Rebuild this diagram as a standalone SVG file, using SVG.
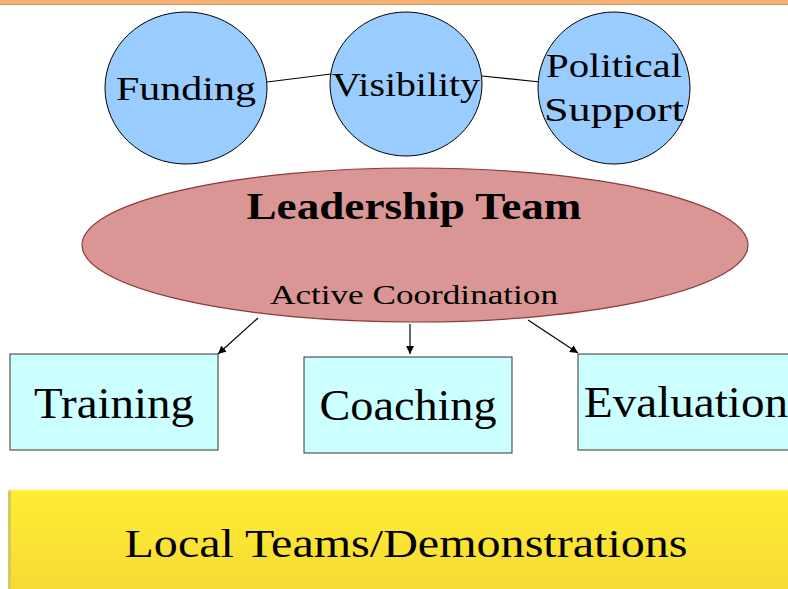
<svg xmlns="http://www.w3.org/2000/svg" width="788" height="589" viewBox="0 0 788 589">
<defs>
<style>
.circ{fill:#99CCFF;stroke:#000;stroke-width:1}
.box{fill:#CCFFFF;stroke:#333;stroke-width:1}
.lbl{font-family:"Liberation Serif","DejaVu Serif",serif;fill:#000}
.conn{stroke:#000;stroke-width:1.2;fill:none}
</style>
<marker id="ah" viewBox="0 0 10 10" refX="10" refY="5" markerWidth="8" markerHeight="8" orient="auto" markerUnits="userSpaceOnUse">
<path d="M0,0 L10,5 L0,10 z" fill="#000"/>
</marker>
<linearGradient id="yg" x1="0" y1="0" x2="0" y2="1">
<stop offset="0" stop-color="#FFEE33"/>
<stop offset="1" stop-color="#F5D835"/>
</linearGradient>
</defs>
<rect x="0" y="0" width="788" height="589" fill="#fff"/>
<rect x="0" y="0" width="788" height="3.5" fill="#F8B070"/>
<rect x="0" y="3.5" width="788" height="1.5" fill="#D39058"/>
<g id="connectors">
<line class="conn" x1="267" y1="82" x2="331" y2="74"/>
<line class="conn" x1="482" y1="76" x2="540" y2="82"/>
<line class="conn" x1="258" y1="318" x2="218" y2="354" marker-end="url(#ah)"/>
<line class="conn" x1="410" y1="324" x2="410" y2="354" marker-end="url(#ah)"/>
<line class="conn" x1="528" y1="320" x2="578" y2="353" marker-end="url(#ah)"/>
</g>
<g id="funding">
<ellipse class="circ" cx="186" cy="88" rx="81" ry="76"/>
<text class="lbl" x="186" y="100" font-size="34" text-anchor="middle" textLength="140" lengthAdjust="spacingAndGlyphs">Funding</text>
</g>
<g id="visibility">
<ellipse class="circ" cx="406" cy="84" rx="76" ry="72"/>
<text class="lbl" x="406" y="96" font-size="34" text-anchor="middle" textLength="148" lengthAdjust="spacingAndGlyphs">Visibility</text>
</g>
<g id="political">
<ellipse class="circ" cx="614" cy="88" rx="76" ry="76"/>
<text class="lbl" x="614" y="77" font-size="34" text-anchor="middle" textLength="136" lengthAdjust="spacingAndGlyphs">Political</text>
<text class="lbl" x="614" y="121" font-size="34" text-anchor="middle" textLength="140" lengthAdjust="spacingAndGlyphs">Support</text>
</g>
<g id="leadership">
<ellipse cx="415" cy="245" rx="333" ry="77" fill="#D99694" stroke="#8B3A3A" stroke-width="1.2"/>
<text class="lbl" x="414" y="219" font-size="38" font-weight="bold" text-anchor="middle" textLength="335" lengthAdjust="spacingAndGlyphs">Leadership Team</text>
<text class="lbl" x="414" y="304" font-size="28" text-anchor="middle" textLength="288" lengthAdjust="spacingAndGlyphs">Active Coordination</text>
</g>
<g id="training">
<rect class="box" x="10" y="354" width="208" height="96"/>
<text class="lbl" x="114" y="418" font-size="44" text-anchor="middle" textLength="160" lengthAdjust="spacingAndGlyphs">Training</text>
</g>
<g id="coaching">
<rect class="box" x="304" y="357" width="208" height="96"/>
<text class="lbl" x="408" y="420" font-size="44" text-anchor="middle" textLength="177" lengthAdjust="spacingAndGlyphs">Coaching</text>
</g>
<g id="evaluation">
<rect class="box" x="578" y="354" width="215" height="96"/>
<text class="lbl" x="686" y="417" font-size="44" text-anchor="middle" textLength="204" lengthAdjust="spacingAndGlyphs">Evaluation</text>
</g>
<g id="local">
<rect x="8" y="490" width="790" height="110" fill="url(#yg)"/>
<rect x="8" y="490" width="3" height="110" fill="#D8C860"/>
<rect x="8" y="489" width="790" height="2" fill="#FFF4A0" opacity="0.6"/>
<text class="lbl" x="406" y="557" font-size="40" text-anchor="middle" textLength="563" lengthAdjust="spacingAndGlyphs">Local Teams/Demonstrations</text>
</g>
</svg>
